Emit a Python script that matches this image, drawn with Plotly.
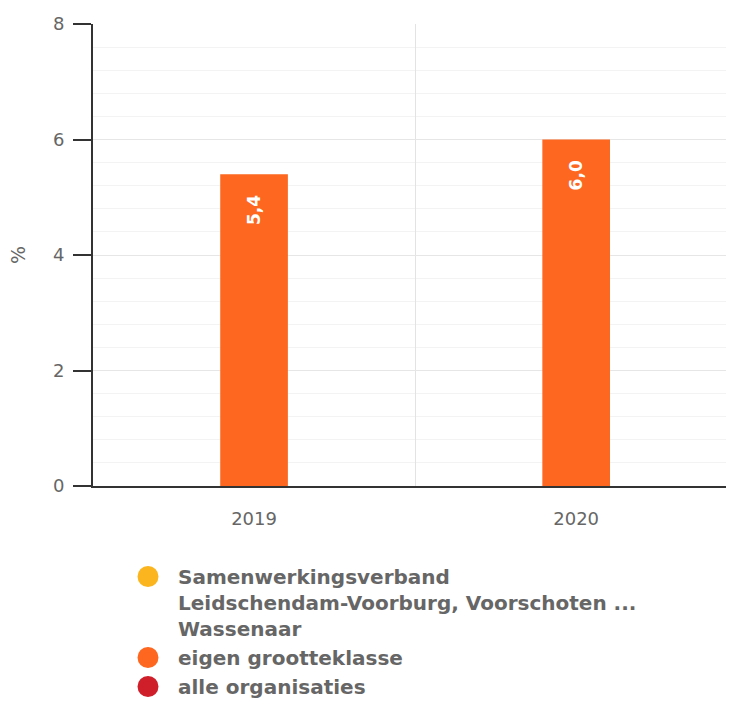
import plotly.graph_objects as go

categories = ["2019", "2020"]
series_names = [
    "Samenwerkingsverband<br>Leidschendam-Voorburg, Voorschoten ...<br>Wassenaar",
    "eigen grootteklasse",
    "alle organisaties",
]
samenwerkingsverband = [None, None]
eigen_grootteklasse = [5.4, 6.0]
alle_organisaties = [None, None]
series_values = [samenwerkingsverband, eigen_grootteklasse, alle_organisaties]
series_colors = ["#fbb51f", "#fd671f", "#cf1f2b"]
y_ticks = [0, 2, 4, 6, 8]

FONT = "DejaVu Sans"

fig = go.Figure()
for name, vals, col in zip(series_names, series_values, series_colors):
    fig.add_trace(go.Bar(
        x=categories, y=vals, name=name, marker=dict(color=col, line=dict(width=0)),
        width=0.21, showlegend=False,
        texttemplate="%{y:.1f}   ", textposition="inside", insidetextanchor="end",
        textangle=-90,
        textfont=dict(color="white", size=17, family=FONT, weight="bold"),
        hoverinfo="skip",
    ))
    fig.add_trace(go.Scatter(
        x=[None], y=[None], mode="markers", name=name,
        marker=dict(symbol="circle", size=16, color=col, line=dict(color=col, width=5)),
        showlegend=True,
    ))

fig.add_annotation(
    text="%", xref="paper", yref="paper", x=-0.117, y=0.5,
    xanchor="center", yanchor="middle", textangle=-90, showarrow=False,
    font=dict(size=19, color="#666666", family=FONT),
)

fig.update_layout(
    width=726, height=696,
    margin=dict(l=85, r=0, t=16, b=218, autoexpand=False),
    plot_bgcolor="white", paper_bgcolor="white",
    barmode="overlay",
    separators=",.",
    font=dict(family=FONT, color="#666666"),
    legend=dict(
        orientation="v", xref="container", x=110/726, xanchor="left",
        yref="container", y=1 - 549/696, yanchor="top", valign="top",
        font=dict(size=20, color="#666666", family=FONT, weight="bold"),
        itemsizing="trace", itemwidth=50, tracegroupgap=0, bgcolor="rgba(0,0,0,0)",
    ),
    xaxis=dict(
        type="category", range=[-0.5, 1.49], tickson="boundaries",
        showgrid=True, gridcolor="#e3e3e3", gridwidth=1,
        showline=True, linecolor="#333333", linewidth=2,
        ticks="", tickfont=dict(size=18, color="#666666", family=FONT), tickangle=0,
        ticklabelstandoff=15,
        fixedrange=True,
    ),
    yaxis=dict(
        range=[0, 8], tickvals=y_ticks, ticktext=[str(v) for v in y_ticks],
        showgrid=True, gridcolor="#e6e6e6", gridwidth=1,
        minor=dict(dtick=0.4, showgrid=True, gridcolor="#f3f3f3", gridwidth=1, ticks=""),
        showline=True, linecolor="#333333", linewidth=2,
        ticks="outside", ticklen=18, tickwidth=2, tickcolor="#333333",
        tickfont=dict(size=18, color="#666666", family=FONT),
        ticklabelstandoff=5,
        zeroline=False, fixedrange=True,
    ),
)

fig.write_html("out.html")
